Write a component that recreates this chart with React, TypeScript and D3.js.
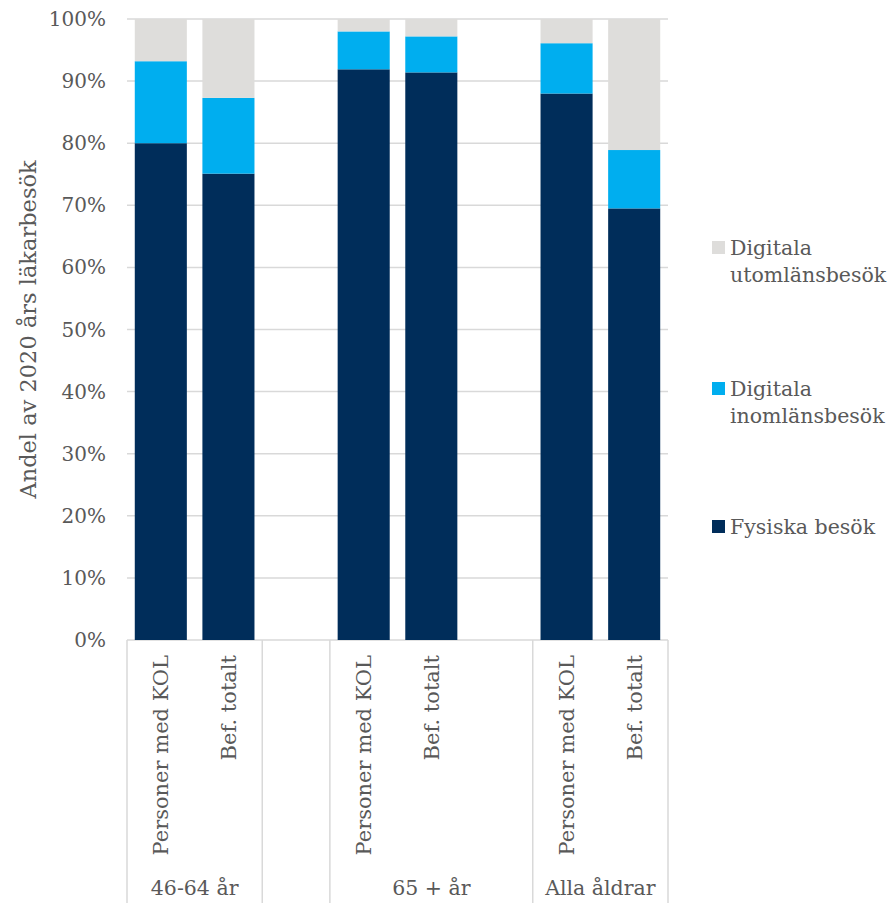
import React from "react";
import * as d3 from "d3";

const groups = ["46-64 år", "", "65 + år", "Alla åldrar"];
const categories = ["Personer med KOL", "Bef. totalt", "", "Personer med KOL", "Bef. totalt", "", "Personer med KOL", "Bef. totalt"];
const categoryGroup = [0, 0, 1, 2, 2, 2, 3, 3];
const seriesNames = ["Fysiska besök", "Digitala inomlänsbesök", "Digitala utomlänsbesök"];
const fysiska = [80.0, 75.1, null, 91.9, 91.4, null, 88.0, 69.5];
const inomlans = [13.2, 12.2, null, 6.1, 5.8, null, 8.1, 9.4];
const utomlans = [6.8, 12.7, null, 2.0, 2.8, null, 3.9, 21.1];
const yTicks = [0, 10, 20, 30, 40, 50, 60, 70, 80, 90, 100];
const colors = ["#002d5a", "#00aeef", "#dedddb"];
const legendLines = [["Digitala", "utomlänsbesök"], ["Digitala", "inomlänsbesök"], ["Fysiska besök"]];

const W = 895, H = 903;
const left = 127, right = 668, top = 19, bottom = 640;
const FONT = "'DejaVu Serif', serif";
const TXT = "#595959";

export default function App() {
  const x = d3.scaleBand<number>().domain(d3.range(categories.length)).range([left, right]).paddingInner(0.23).paddingOuter(0.115);
  const step = (right - left) / categories.length;
  const y = d3.scaleLinear().domain([0, 100]).range([bottom, top]);
  const series = [fysiska, inomlans, utomlans];
  const rows = categories.map((c, i) => ({ i, f: fysiska[i], n: inomlans[i], u: utomlans[i] }));
  const stack = d3.stack<any>().keys(["f", "n", "u"]).value((d, k) => (d[k] == null ? 0 : d[k]));
  const stacked = stack(rows);

  const bounds: number[] = [0];
  for (let i = 1; i < categoryGroup.length; i++) if (categoryGroup[i] !== categoryGroup[i - 1]) bounds.push(i);
  bounds.push(categoryGroup.length);

  return (
    <svg width={W} height={H} style={{ position: "absolute", left: 0, top: 0, background: "#fff" }}>
      {yTicks.map((t) => (
        <g key={t}>
          <line x1={left} x2={right} y1={y(t)} y2={y(t)} stroke="#d9d9d9" strokeWidth={1.5} />
          <text x={106} y={y(t)} dy="0.35em" textAnchor="end" fontFamily={FONT} fontSize={20} fill={TXT}>{t}%</text>
        </g>
      ))}
      {stacked.map((s, si) => (
        <g key={si} fill={colors[si]}>
          {s.map((d, i) =>
            series[si][i] == null ? null : (
              <rect key={i} x={x(i)} width={x.bandwidth()} y={y(d[1])} height={y(d[0]) - y(d[1])} />
            )
          )}
        </g>
      ))}
      {bounds.map((b, k) => (
        <line key={k} x1={left + b * step} x2={left + b * step} y1={bottom} y2={H} stroke="#d9d9d9" strokeWidth={1.5} />
      ))}
      {categories.map((c, i) =>
        c ? (
          <text key={i} transform={`translate(${x(i)! + x.bandwidth() / 2},655) rotate(-90)`} dy="0.35em" textAnchor="end" fontFamily={FONT} fontSize={21} fill={TXT}>{c}</text>
        ) : null
      )}
      {groups.map((g, k) => {
        const cx = left + ((bounds[k] + bounds[k + 1]) / 2) * step;
        return g ? (
          <text key={k} x={cx} y={895} textAnchor="middle" fontFamily={FONT} fontSize={20.5} fill={TXT}>{g}</text>
        ) : null;
      })}
      <text transform={`translate(28,${(top + bottom) / 2}) rotate(-90)`} dy="0.35em" textAnchor="middle" fontFamily={FONT} fontSize={22.5} fill={TXT}>Andel av 2020 års läkarbesök</text>
      {[2, 1, 0].map((si, k) => {
        const sy = [241, 382, 520][k];
        return (
          <g key={si}>
            <rect x={712} y={sy} width={13} height={13} fill={colors[si]} />
            {legendLines[k].map((l, li) => (
              <text key={li} x={730} y={sy + 6.5 + li * 27} dy="0.35em" fontFamily={FONT} fontSize={20.5} fill={TXT}>{l}</text>
            ))}
          </g>
        );
      })}
    </svg>
  );
}
